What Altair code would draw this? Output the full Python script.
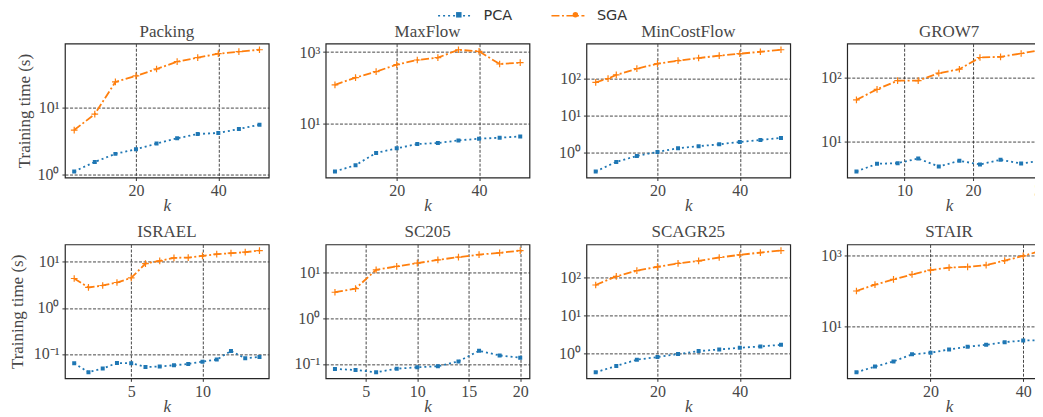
import altair as alt
import numpy as np
import pandas as pd

# ---------------- data ----------------
packing_k = [5, 10, 15, 20, 25, 30, 35, 40, 45, 50]
packing_pca = [1.11, 1.54, 2.03, 2.38, 2.89, 3.46, 4.02, 4.16, 4.77, 5.53]
packing_sga = [4.6, 7.96, 24.0, 29.5, 37.5, 48.2, 55.3, 63.4, 67.9, 72.6]

maxflow_k = [5, 10, 15, 20, 25, 30, 35, 40, 45, 50]
maxflow_pca = [0.44, 0.66, 1.46, 1.96, 2.59, 2.77, 3.28, 3.66, 3.90, 4.25]
maxflow_sga = [120, 192, 282, 443, 598, 695, 1162, 1044, 462, 504]

mincost_k = [5, 10, 15, 20, 25, 30, 35, 40, 45, 50]
mincost_pca = [0.31, 0.56, 0.81, 1.04, 1.31, 1.48, 1.67, 1.93, 2.18, 2.47]
mincost_sga_k = [5, 8, 10, 15, 20, 25, 30, 35, 40, 45, 50]
mincost_sga = [78, 98, 123, 181, 247, 297, 351, 405, 458, 518, 586]

grow7_k = [3, 6, 9, 12, 15, 18, 21, 24, 27, 30]
grow7_pca = [3.40, 4.48, 4.58, 5.42, 4.06, 4.99, 4.38, 5.18, 4.53, 5.05]
grow7_sga = [45, 66, 90, 90, 118, 136, 208, 213, 240, 275]

israel_k = [1, 2, 3, 4, 5, 6, 7, 8, 9, 10, 11, 12, 13, 14]
israel_pca = [0.0628, 0.0401, 0.0481, 0.0638, 0.0628, 0.0523, 0.0532, 0.0569,
              0.0607, 0.0682, 0.0754, 0.116, 0.0805, 0.0861]
israel_sga = [4.35, 2.78, 3.07, 3.56, 4.50, 9.2, 10.5, 12.2, 12.4, 13.5, 14.7,
              15.4, 16.2, 17.6]

sc205_k = [2, 4, 6, 8, 10, 12, 14, 16, 18, 20]
sc205_pca = [0.078, 0.074, 0.066, 0.079, 0.0847, 0.089, 0.114, 0.194, 0.154, 0.137]
sc205_sga = [3.69, 4.43, 11.4, 13.5, 15.9, 18.8, 21.5, 24.5, 26.7, 30.0]

scagr_k = [5, 10, 15, 20, 25, 30, 35, 40, 45, 50]
scagr_pca = [0.329, 0.48, 0.70, 0.82, 0.98, 1.17, 1.29, 1.43, 1.55, 1.71]
scagr_sga = [62, 104, 146, 185, 226, 264, 323, 378, 434, 490]

stair_k = [4, 8, 12, 16, 20, 24, 28, 32, 36, 40, 44]
stair_pca = [0.52, 0.75, 1.05, 1.66, 1.84, 2.28, 2.71, 3.08, 3.66, 4.06, 4.16]
stair_sga = [101, 152, 214, 295, 390, 462, 483, 537, 725, 980, 1390]

titles = ["Packing", "MaxFlow", "MinCostFlow", "GROW7",
          "ISRAEL", "SC205", "SCAGR25", "STAIR"]
x_ticks = [[20, 40], [20, 40], [20, 40], [10, 20, 30],
           [5, 10], [5, 10, 15, 20], [20, 40], [20, 40]]
y_ticks = [[1, 10], [10, 1000], [1, 10, 100], [10, 100],
           [0.1, 1, 10], [0.1, 1, 10], [1, 10, 100], [10, 1000]]
methods = ["PCA", "SGA"]

series = [
    (packing_k, packing_pca, packing_k, packing_sga),
    (maxflow_k, maxflow_pca, maxflow_k, maxflow_sga),
    (mincost_k, mincost_pca, mincost_sga_k, mincost_sga),
    (grow7_k, grow7_pca, grow7_k, grow7_sga),
    (israel_k, israel_pca, israel_k, israel_sga),
    (sc205_k, sc205_pca, sc205_k, sc205_sga),
    (scagr_k, scagr_pca, scagr_k, scagr_sga),
    (stair_k, stair_pca, stair_k, stair_sga),
]

# ---------------- styling ----------------
SERIF = "Liberation Serif"
TXT = "#474747"
BLUE, ORANGE = "#1f77b4", "#ff7f0e"
PLUS = "M-1,0H1M0,-1V1"

color_scale = alt.Scale(domain=methods, range=[BLUE, ORANGE])
dash_scale = alt.Scale(domain=methods, range=[[2, 3], [8, 2.5, 2, 2.5]])
key_domain = [m + " " for m in methods]
key_fill_scale = alt.Scale(domain=key_domain, range=[BLUE, ORANGE])
key_shape_scale = alt.Scale(domain=key_domain, range=["square", "circle"])

LEG_X, LEG_Y = 372.5, -45.5
line_legend = alt.Legend(
    title=None, orient="none", legendX=LEG_X, legendY=LEG_Y, direction="horizontal",
    symbolType="stroke", symbolSize=1089, symbolStrokeWidth=1.5,
    labelFont="DejaVu Sans", labelFontSize=14.5, labelColor="#333",
    labelOffset=11.5, columnPadding=35.5,
)
# markers overlaid at the middle of each legend line (labels are blank)
marker_legend = alt.Legend(
    title=None, orient="none", legendX=LEG_X, legendY=LEG_Y + 9.25,
    direction="horizontal",
    symbolSize=30, symbolStrokeWidth=0, symbolOffset=14.5,
    labelFont="DejaVu Sans", labelFontSize=14.5, labelColor="#333",
    labelExpr="' '", labelOffset=0, columnPadding=87.7,
)

LABEL_EXPR = ("datum.value > 500 ? '10³' : datum.value > 50 ? '10²' : "
              "datum.value > 5 ? '10¹' : datum.value > 0.5 ? '10⁰' : '10⁻¹'")


def make_panel(i):
    kp, vp, ks, vs = series[i]
    df = pd.concat([
        pd.DataFrame({"k": kp, "time": vp, "method": "PCA"}),
        pd.DataFrame({"k": ks, "time": vs, "method": "SGA"}),
    ], ignore_index=True)
    kmin, kmax = float(df.k.min()), float(df.k.max())
    kr = kmax - kmin
    lmin, lmax = np.log10(df.time.min()), np.log10(df.time.max())
    lr = lmax - lmin
    xdom = [kmin - 0.05 * kr, kmax + 0.05 * kr]
    ydom = [10 ** (lmin - 0.05 * lr), 10 ** (lmax + 0.05 * lr)]

    first_col = (i % 4 == 0)
    x = alt.X("k:Q", scale=alt.Scale(domain=xdom, nice=False, zero=False),
              axis=alt.Axis(values=x_ticks[i], title="k", titleFontStyle="italic",
                            labelPadding=2, titlePadding=-1))
    yaxis_kw = dict(values=y_ticks[i], labelExpr=LABEL_EXPR, labelPadding=3)
    if first_col:
        yaxis_kw["title"] = "Training time (s)"
        yaxis_kw["titlePadding"] = 3 if i == 0 else 7
    else:
        yaxis_kw["title"] = None
    y = alt.Y("time:Q", scale=alt.Scale(type="log", domain=ydom, nice=False),
              axis=alt.Axis(**yaxis_kw))

    base = alt.Chart(df)
    line = base.mark_line(strokeWidth=1.8, clip=True).encode(
        x=x, y=y,
        stroke=alt.Stroke("method:N", scale=color_scale, legend=line_legend),
        strokeDash=alt.StrokeDash("method:N", scale=dash_scale, legend=line_legend),
    )
    pca_pts = base.transform_filter("datum.method === 'PCA'").mark_point(
        shape="square", filled=True, size=16, color=BLUE, opacity=1, clip=True
    ).encode(x=x, y=y)
    sga_pts = base.transform_filter("datum.method === 'SGA'").mark_point(
        shape=PLUS, filled=False, size=45, color=ORANGE, strokeWidth=1.2,
        opacity=1, clip=True
    ).encode(x=x, y=y)
    # legend-only layer (no rows pass the filter): gives the legend markers
    key = base.transform_calculate(series="datum.method + ' '").transform_filter(
        "datum.k < -1e9"
    ).mark_point(filled=True, opacity=1).encode(
        x=x, y=y,
        fill=alt.Fill("series:N", scale=key_fill_scale, legend=marker_legend),
        shape=alt.Shape("series:N", scale=key_shape_scale, legend=marker_legend),
    )
    return alt.layer(line, pca_pts, sga_pts, key).properties(
        width=204, height=134,
        title=alt.TitleParams(titles[i], font=SERIF, fontSize=17,
                              fontWeight="normal", color=TXT, offset=3),
    )


chart = alt.concat(
    *[make_panel(i) for i in range(8)], columns=4,
    spacing={"row": 67, "column": 57}, bounds="flush",
).properties(
    padding={"left": -1, "top": -10.5, "right": -17, "bottom": 0},
).configure_view(
    stroke="#262626", strokeWidth=1.2
).configure_axis(
    labelFont=SERIF, labelFontSize=16, labelColor=TXT,
    titleFont=SERIF, titleFontSize=17, titleColor=TXT, titleFontWeight="normal",
    grid=True, gridColor="#333333", gridDash=[3, 1.6], gridWidth=0.9,
    domain=False, tickColor="#333333", tickSize=3, tickWidth=1,
)

chart.save("out.html", embed_options={"renderer": "svg", "actions": False})
